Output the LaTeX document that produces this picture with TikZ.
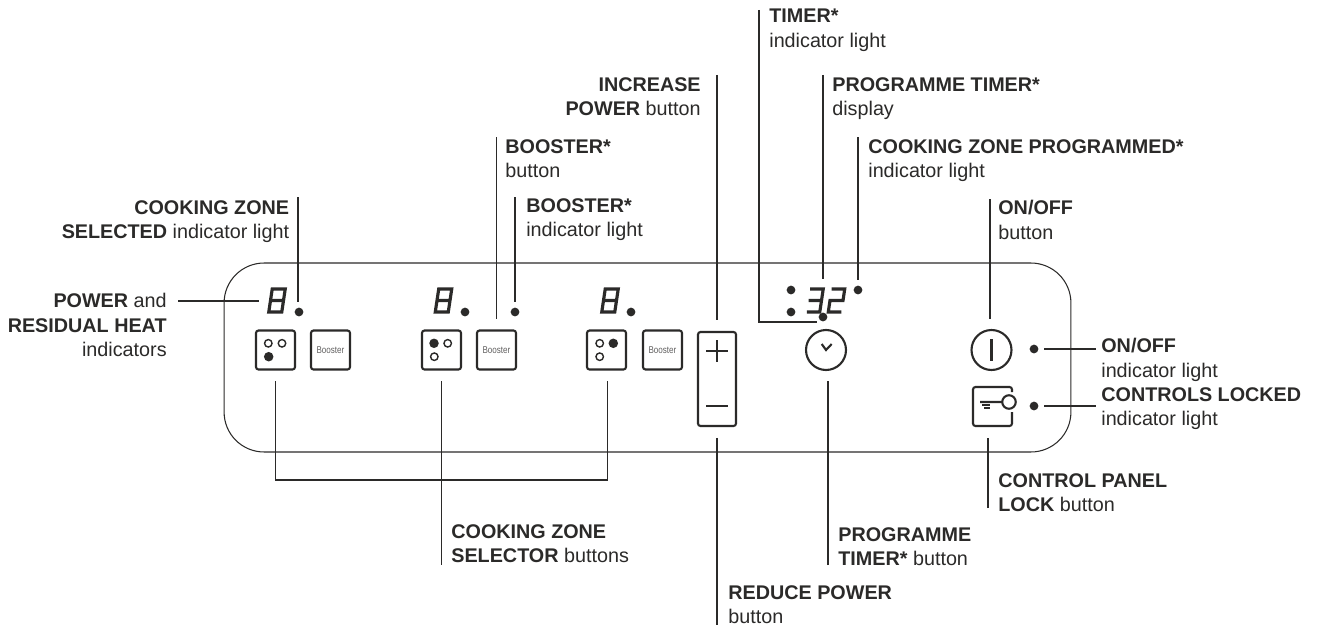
\documentclass[tikz,border=0pt]{standalone}
\usepackage{fontspec}
\setmainfont{Liberation Sans}
\definecolor{ink}{HTML}{2B2A29}
\tikzset{
    leader/.style={line width=0.6pt,ink},
    lbl/.style={inner sep=0pt,text=ink,font=\fontsize{11.25}{13.9}\selectfont},
    lblL/.style={lbl,anchor=north west,align=left},
    lblR/.style={lbl,anchor=north east,align=right},
    lamp/.style={circle,fill=ink,inner sep=0pt,minimum size=0.175cm,outer sep=0.12cm},
    btnarea/.style={rectangle,inner sep=0pt,minimum size=0.78cm,outer sep=0.24cm},
    btn/.style={btnarea,draw=ink,line width=1.2pt,rounded corners=0.05cm},
    dial/.style={circle,draw=ink,line width=1.2pt,inner sep=0pt,minimum size=0.8cm,outer sep=0.22cm},
    seg/.style={ink,line width=1.8pt,line join=miter},
    segs8/.pic={\draw[seg,xslant=0.15] (-6.5,-11.5)--(6.5,-11.5)--(6.5,11.5)--(-6.5,11.5)--cycle (-6.5,0)--(6.5,0);},
    segs3/.pic={\draw[seg,xslant=0.15] (-6.5,-11.5)--(6.5,-11.5)--(6.5,11.5)--(-6.5,11.5) (-6.5,0)--(6.5,0);},
    segs2/.pic={\draw[seg,xslant=0.15] (-6.5,-11.5)--(6.5,-11.5)--(6.5,0)--(-6.5,0)--(-6.5,11.5)--(6.5,11.5);}
}
\newcommand{\boostertext}{\textcolor{ink!75}{\fontsize{5.6}{6}\selectfont\scalebox{0.82}[1]{Booster}}}
\begin{document}
\begin{tikzpicture}[x=0.02cm,y=-0.02cm]
    \useasboundingbox (0,0) rectangle (1318,625);
    \node[rectangle,draw=ink,line width=0.6pt,rounded corners=0.8cm,inner sep=0pt,
        minimum width=16.94cm,minimum height=3.78cm] (panel) at (647.5,357.5) {};
    %% displays
    \pic at (277,300.5) {segs8};
    \pic at (443.5,300.5) {segs8};
    \pic at (610,300.5) {segs8};
    \pic at (815,300.5) {segs3};
    \pic at (836.5,300.5) {segs2};
    %% lamps
    \node[lamp] (zoneLampA) at (299,312) {};
    \node[lamp] (zoneLampB) at (465,312) {};
    \node[lamp] (zoneLampC) at (631,312) {};
    \node[lamp] (boostLamp) at (515,312) {};
    \node[lamp] (colonTop) at (791,290) {};
    \node[lamp] (colonLow) at (791,312) {};
    \node[lamp] (timerLamp) at (823,317) {};
    \node[lamp] (progLamp) at (858,290) {};
    \node[lamp] (onLamp) at (1034,349) {};
    \node[lamp] (lockLamp) at (1034,406) {};
    %% selector buttons
    \node[btn] (selA) at (275.5,350) {};
    \draw[ink,line width=0.8pt] (268.3,343.3) circle (0.075cm) (282,343.3) circle (0.075cm);
    \fill[ink] (268.7,356.7) circle (0.095cm);
    \node[btn] (selB) at (441.5,350) {};
    \fill[ink] (434,343.3) circle (0.095cm);
    \draw[ink,line width=0.8pt] (447.7,343.3) circle (0.075cm) (434.3,356.7) circle (0.075cm);
    \node[btn] (selC) at (606.5,350) {};
    \draw[ink,line width=0.8pt] (599.7,343.3) circle (0.075cm) (599.7,356.7) circle (0.075cm);
    \fill[ink] (613.3,343.3) circle (0.095cm);
    %% booster buttons
    \node[btn] (boostA) at (330.5,350) {\boostertext};
    \node[btn] (boostB) at (496.5,350) {\boostertext};
    \node[btn] (boostC) at (662.5,350) {\boostertext};
    %% power button
    \node[btnarea,draw=ink,line width=1.2pt,rounded corners=0.05cm,minimum width=0.76cm,
        minimum height=1.88cm] (powerBtn) at (717,379) {};
    \draw[ink,line width=1.2pt] (706,351)--(728,351) (717,340)--(717,362) (706,406)--(728,406);
    %% clock and on/off
    \node[dial] (clockBtn) at (826,350) {};
    \draw[ink,line width=1.2pt] (821.7,344)--(826,350)--(831.7,344);
    \node[dial] (onBtn) at (991.5,350) {};
    \draw[ink,line width=1.2pt] (991.5,339)--(991.5,361);
    %% lock
    \node[btnarea] (lockBtn) at (992.5,406.5) {};
    \draw[ink,line width=1.2pt,rounded corners=0.05cm] (1012,392)--(1012,387)--(973,387)--(973,426)--(1012,426)--(1012,412);
    \draw[ink,line width=1.2pt] (1009,402) circle (0.135cm) (980,402)--(1002,402);
    \draw[ink,line width=0.8pt] (982,405)--(990,405) (984,408)--(990,408);
    %% free ends of the leaders
    \coordinate (powerEndL) at (178,301);
    \coordinate (powerEndR) at (259,301);
    \coordinate (zoneTop) at (298,197);
    \coordinate (boostBtnTop) at (496.5,137);
    \coordinate (boostLampTop) at (515,197);
    \coordinate (incTop) at (717,75);
    \coordinate (timerTop) at (759,10);
    \coordinate (timerCorner) at (759,322);
    \coordinate (timerEnd) at (817,322);
    \coordinate (progTop) at (823,75);
    \coordinate (progEnd) at (823,279);
    \coordinate (lampTop) at (858,137);
    \coordinate (onTop) at (990,199);
    \coordinate (onRight) at (1096,349);
    \coordinate (lockRight) at (1096,406);
    \coordinate (lockLow) at (988,508);
    \coordinate (clockLow) at (828,565);
    \coordinate (busA) at (275.5,480);
    \coordinate (busC) at (607.5,480);
    \coordinate (selLow) at (441.5,565);
    \coordinate (reduceLow) at (717,625);
    %% leaders
    \draw[leader] (powerEndL) -- (powerEndR);
    \draw[leader] (zoneTop) -- (zoneTop |- zoneLampA.north);
    \draw[leader] (boostBtnTop) -- (boostB.north);
    \draw[leader] (boostLampTop) -- (boostLamp.north);
    \draw[leader] (incTop) -- (powerBtn.north);
    \draw[leader] (timerTop) -- (timerCorner) -- (timerEnd);
    \draw[leader] (progTop) -- (progEnd);
    \draw[leader] (lampTop) -- (progLamp.north);
    \draw[leader] (onTop) -- (onTop |- onBtn.north);
    \draw[leader] (onLamp.east) -- (onRight);
    \draw[leader] (lockLamp.east) -- (lockRight);
    \draw[leader] (lockLow) -- (lockLow |- lockBtn.south);
    \draw[leader] (clockLow) -- (clockLow |- clockBtn.south);
    \draw[leader] (selA.south) -- (busA) -- (busC) -- (busC |- selC.south);
    \draw[leader] (selB.south) -- (selLow);
    \draw[leader] (powerBtn.south) -- (reduceLow);
    %% labels
    \node[lblR] (zoneLbl) at (289.5,200) {\textbf{COOKING ZONE}\\\textbf{SELECTED} indicator light};
    \node[lblR] (powerLbl) at (167,293) {\textbf{POWER} and\\\textbf{RESIDUAL HEAT}\\indicators};
    \node[lblL] (boostBtnLbl) at (505,139) {\textbf{BOOSTER*}\\button};
    \node[lblL] (boostLampLbl) at (526,198) {\textbf{BOOSTER*}\\indicator light};
    \node[lblR] (incLbl) at (701,77) {\textbf{INCREASE}\\\textbf{POWER} button};
    \node[lblL] (timerLbl) at (769,9) {\textbf{TIMER*}\\indicator light};
    \node[lblL] (progLbl) at (832,77) {\textbf{PROGRAMME TIMER*}\\display};
    \node[lblL] (lampLbl) at (868,139) {\textbf{COOKING ZONE PROGRAMMED*}\\indicator light};
    \node[lblL] (onLbl) at (998,200) {\textbf{ON/OFF}\\button};
    \node[lblL] (onLampLbl) at (1101,338) {\textbf{ON/OFF}\\indicator light};
    \node[lblL] (lockLampLbl) at (1101,387) {\textbf{CONTROLS LOCKED}\\indicator light};
    \node[lblL] (lockLbl) at (998,473) {\textbf{CONTROL PANEL}\\\textbf{LOCK} button};
    \node[lblL] (clockLbl) at (838,527) {\textbf{PROGRAMME}\\\textbf{TIMER*} button};
    \node[lblL] (selLbl) at (451,524) {\textbf{COOKING ZONE}\\\textbf{SELECTOR} buttons};
    \node[lblL] (reduceLbl) at (728,585) {\textbf{REDUCE POWER}\\button};
\end{tikzpicture}
\end{document}
